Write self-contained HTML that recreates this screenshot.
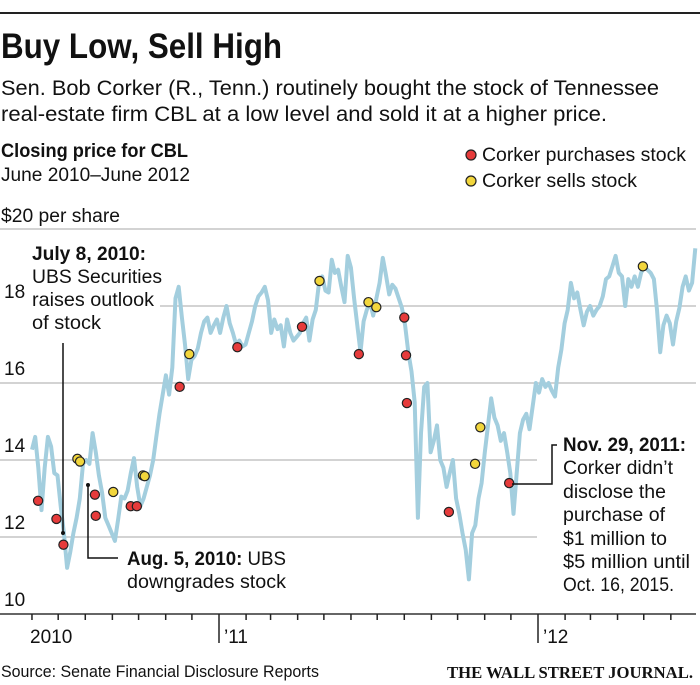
<!DOCTYPE html>
<html><head><meta charset="utf-8"><style>
html,body{margin:0;padding:0;background:#fff}
svg{display:block}
text{font-family:"Liberation Sans",sans-serif;fill:#111}
</style></head><body>
<svg id="chart" width="700" height="685" viewBox="0 0 700 685" xmlns="http://www.w3.org/2000/svg">
<rect width="700" height="685" fill="#fff"/>
<line x1="0" y1="13" x2="700" y2="13" stroke="#222" stroke-width="2"/>
<text x="1" y="58" font-size="35" font-weight="bold" textLength="281" lengthAdjust="spacingAndGlyphs">Buy Low, Sell High</text>
<text x="1" y="95" font-size="21" textLength="658" lengthAdjust="spacingAndGlyphs">Sen. Bob Corker (R., Tenn.) routinely bought the stock of Tennessee</text>
<text x="1" y="121" font-size="21" textLength="606" lengthAdjust="spacingAndGlyphs">real-estate firm CBL at a low level and sold it at a higher price.</text>
<text x="1" y="157" font-size="19" font-weight="bold" textLength="187" lengthAdjust="spacingAndGlyphs">Closing price for CBL</text>
<text x="1" y="181" font-size="19" textLength="189" lengthAdjust="spacingAndGlyphs">June 2010–June 2012</text>
<g>
<circle cx="471" cy="155" r="5" fill="#e63b3b" stroke="#222" stroke-width="1.2"/>
<text x="482" y="161" font-size="19" textLength="204" lengthAdjust="spacingAndGlyphs">Corker purchases stock</text>
<circle cx="471" cy="181" r="5" fill="#f2d63c" stroke="#222" stroke-width="1.2"/>
<text x="482" y="187" font-size="19" textLength="155" lengthAdjust="spacingAndGlyphs">Corker sells stock</text>
</g>
<text x="1" y="222" font-size="19" textLength="119" lengthAdjust="spacingAndGlyphs">$20 per share</text>
<g id="grid"></g>
<g id="xaxis"></g>
<g id="series"></g>
<g id="dots"></g>
<g>
<text x="32" y="260" font-size="19" font-weight="bold" textLength="114" lengthAdjust="spacingAndGlyphs">July 8, 2010:</text>
<text x="32" y="283" font-size="19" textLength="130" lengthAdjust="spacingAndGlyphs">UBS Securities</text>
<text x="32" y="306" font-size="19" textLength="122" lengthAdjust="spacingAndGlyphs">raises outlook</text>
<text x="32" y="329" font-size="19" textLength="69" lengthAdjust="spacingAndGlyphs">of stock</text>
<line x1="63" y1="343" x2="63" y2="533" stroke="#111" stroke-width="1.5"/>
<circle cx="63" cy="533" r="2" fill="#111"/>
</g>
<g>
<polyline points="88,485 88,558 118,558" fill="none" stroke="#111" stroke-width="1.5"/>
<circle cx="88" cy="485" r="2" fill="#111"/>
<text x="127" y="565" font-size="19" textLength="159" lengthAdjust="spacingAndGlyphs"><tspan font-weight="bold">Aug. 5, 2010:</tspan> UBS</text>
<text x="127" y="588" font-size="19" textLength="159" lengthAdjust="spacingAndGlyphs">downgrades stock</text>
</g>
<g>
<polyline points="512,484 552,484 552,445 557,445" fill="none" stroke="#111" stroke-width="1.5"/>
<text x="563" y="451" font-size="19" font-weight="bold" textLength="123" lengthAdjust="spacingAndGlyphs">Nov. 29, 2011:</text>
<text x="563" y="474" font-size="19" textLength="110" lengthAdjust="spacingAndGlyphs">Corker didn’t</text>
<text x="563" y="498" font-size="19" textLength="103" lengthAdjust="spacingAndGlyphs">disclose the</text>
<text x="563" y="521" font-size="19" textLength="102" lengthAdjust="spacingAndGlyphs">purchase of</text>
<text x="563" y="545" font-size="19" textLength="104" lengthAdjust="spacingAndGlyphs">$1 million to</text>
<text x="563" y="568" font-size="19" textLength="127" lengthAdjust="spacingAndGlyphs">$5 million until</text>
<text x="563" y="591" font-size="19" textLength="111" lengthAdjust="spacingAndGlyphs">Oct. 16, 2015.</text>
</g>
<text x="1" y="677" font-size="17" textLength="318" lengthAdjust="spacingAndGlyphs">Source: Senate Financial Disclosure Reports</text>
<text x="447" y="678" font-size="17" font-family="Liberation Serif, serif" font-weight="bold" textLength="246" lengthAdjust="spacingAndGlyphs" style="font-family:'Liberation Serif',serif">THE WALL STREET JOURNAL.</text>
</svg>
<script>
const yTicks = [10, 12, 14, 16, 18, 20];
const yTickLabels = ["10", "12", "14", "16", "18", ""];
const yearLabels = ["2010", "’11", "’12"];
const seriesStart = "2010-06-01";
const seriesEnd = "2012-06-29";
const prices = [14.27,14.6,13.8,12.7,13.8,14.6,14.35,13.66,13.6,12.8,12.1,11.2,11.6,12.1,12.5,13.0,13.9,14.0,13.9,14.7,14.2,13.6,13.15,12.5,12.3,12.1,11.9,12.45,13.05,13.0,13.2,13.66,14.05,13.3,12.8,13.0,13.3,13.6,14.0,14.6,15.2,15.7,16.2,15.7,16.4,18.2,18.5,17.7,17.0,16.1,16.6,16.7,16.9,17.3,17.6,17.7,17.3,17.5,17.65,17.3,17.7,18.0,17.55,17.3,17.0,17.1,16.95,17.0,17.3,17.6,18.0,18.25,18.35,18.5,18.15,17.3,17.65,17.4,17.5,16.95,17.65,17.3,17.1,17.2,17.3,17.55,17.7,17.1,17.65,17.9,18.6,18.77,18.4,18.35,19.2,18.86,18.94,18.5,18.1,19.3,
19.0,18.2,17.5,16.8,17.6,17.9,18.1,17.75,18.2,18.6,19.25,18.8,18.3,18.55,18.45,18.2,17.95,17.5,16.8,16.3,15.5,12.5,14.7,15.9,16.0,14.2,14.5,14.9,14.0,13.8,13.3,13.66,14.0,13.0,12.6,12.1,11.67,10.9,12.1,12.3,13.0,13.4,14.2,14.9,15.6,15.1,14.9,14.5,14.7,14.2,13.66,12.6,13.66,14.7,15.05,15.2,14.8,15.4,16.0,15.75,16.1,15.9,16.0,15.8,15.65,16.4,16.87,17.55,17.9,18.6,18.2,18.35,17.9,17.5,17.85,18.0,17.75,17.9,18.0,18.25,18.7,18.77,19.03,19.3,18.86,18.77,18.0,18.7,18.5,18.77,18.5,18.86,19.03,18.94,18.86,18.7,17.9,16.8,17.5,17.75,17.55,17.0,17.6,17.95,18.5,18.77,18.4,18.6,19.5];
const buyDates = ["2010-06-08","2010-06-29","2010-07-07","2010-08-12","2010-08-13","2010-09-22","2010-09-29","2010-11-17","2011-01-22","2011-04-06","2011-06-10","2011-08-01","2011-08-03","2011-08-04","2011-09-21","2011-11-29"];
const buyPrices = [12.94,12.47,11.8,13.1,12.55,12.8,12.8,15.9,16.93,17.46,16.75,17.7,16.72,15.48,12.65,13.4];
const sellDates = ["2010-07-23","2010-07-26","2010-09-02","2010-10-06","2010-10-08","2010-11-28","2011-04-26","2011-06-21","2011-06-30","2011-10-21","2011-10-27","2012-04-30"];
const sellPrices = [14.03,13.96,13.17,13.6,13.58,16.75,18.65,18.1,17.97,13.9,14.85,19.03];

const NS = "http://www.w3.org/2000/svg";
const DAY = 86400000;
const t0 = Date.UTC(2011,0,1), t1 = Date.UTC(2012,0,1);
function x(d){ const t = (typeof d === "string") ? Date.parse(d+"T00:00:00Z") : d; return 219 + (t - t0) / (t1 - t0) * 319; }
function y(v){ return 614 - (v - 10) * 38.5; }
function mk(tag, attrs, parent){ const e = document.createElementNS(NS, tag); for (const k in attrs) e.setAttribute(k, attrs[k]); parent.appendChild(e); return e; }

const grid = document.getElementById("grid");
yTicks.forEach((v, i) => {
  const gy = y(v);
  let x0 = 0;
  if (v === 18) x0 = 160;
  const ln = mk("line", {x1:x0, y1:gy, x2:696, y2:gy, stroke: v===10 ? "#333" : "#b9b9b9", "stroke-width": v===10 ? 1.5 : 1.3}, grid);
  
  
  if (v === 12 || v === 14) { ln.setAttribute('x2', v===12||v===14 ? 537 : 696); }
  if (yTickLabels[i]) {
    const t = mk("text", {x:4, y:gy-8, "font-size":19}, grid);
    t.textContent = yTickLabels[i];
    
    
  }
});

const xa = document.getElementById("xaxis");
for (let m = 0; m < 25; m++) {
  const yr = 2010 + Math.floor((5 + m) / 12), mo = (5 + m) % 12;
  const tx = x(Date.UTC(yr, mo, 1));
  const isYear = mo === 0;
  const tk = mk("line", {x1:tx, y1:614, x2:tx, y2: isYear ? 643 : 620, stroke:"#222", "stroke-width":1.5}, xa);
  
  
}
const yearPos = [[Date.UTC(2010,5,1), 30], [Date.UTC(2011,0,1), null], [Date.UTC(2012,0,1), null]];
yearLabels.forEach((lab, i) => {
  const px = i === 0 ? 30 : x(yearPos[i][0]) + 5;
  const t = mk("text", {x:px, y:643, "font-size":19}, xa);
  t.textContent = lab;
  
  
});

const ser = document.getElementById("series");
const ts = Date.parse(seriesStart+"T00:00:00Z"), te = Date.parse(seriesEnd+"T00:00:00Z");
const pts = prices.map((p, i) => x(ts + (te - ts) * i / (prices.length - 1)).toFixed(1) + "," + y(p).toFixed(1)).join(" ");
const line = mk("polyline", {points:pts, fill:"none", stroke:"#a3cede", "stroke-width":4, "stroke-linejoin":"round"}, ser);



const dots = document.getElementById("dots");
buyDates.forEach((d, i) => {
  const c = mk("circle", {cx:x(d), cy:y(buyPrices[i]), r:4.6, fill:"#e63b3b", stroke:"#222", "stroke-width":1.2}, dots);
  
  
});
sellDates.forEach((d, i) => {
  const c = mk("circle", {cx:x(d), cy:y(sellPrices[i]), r:4.6, fill:"#f2d63c", stroke:"#222", "stroke-width":1.2}, dots);
  
  
});
</script>
</body></html>
